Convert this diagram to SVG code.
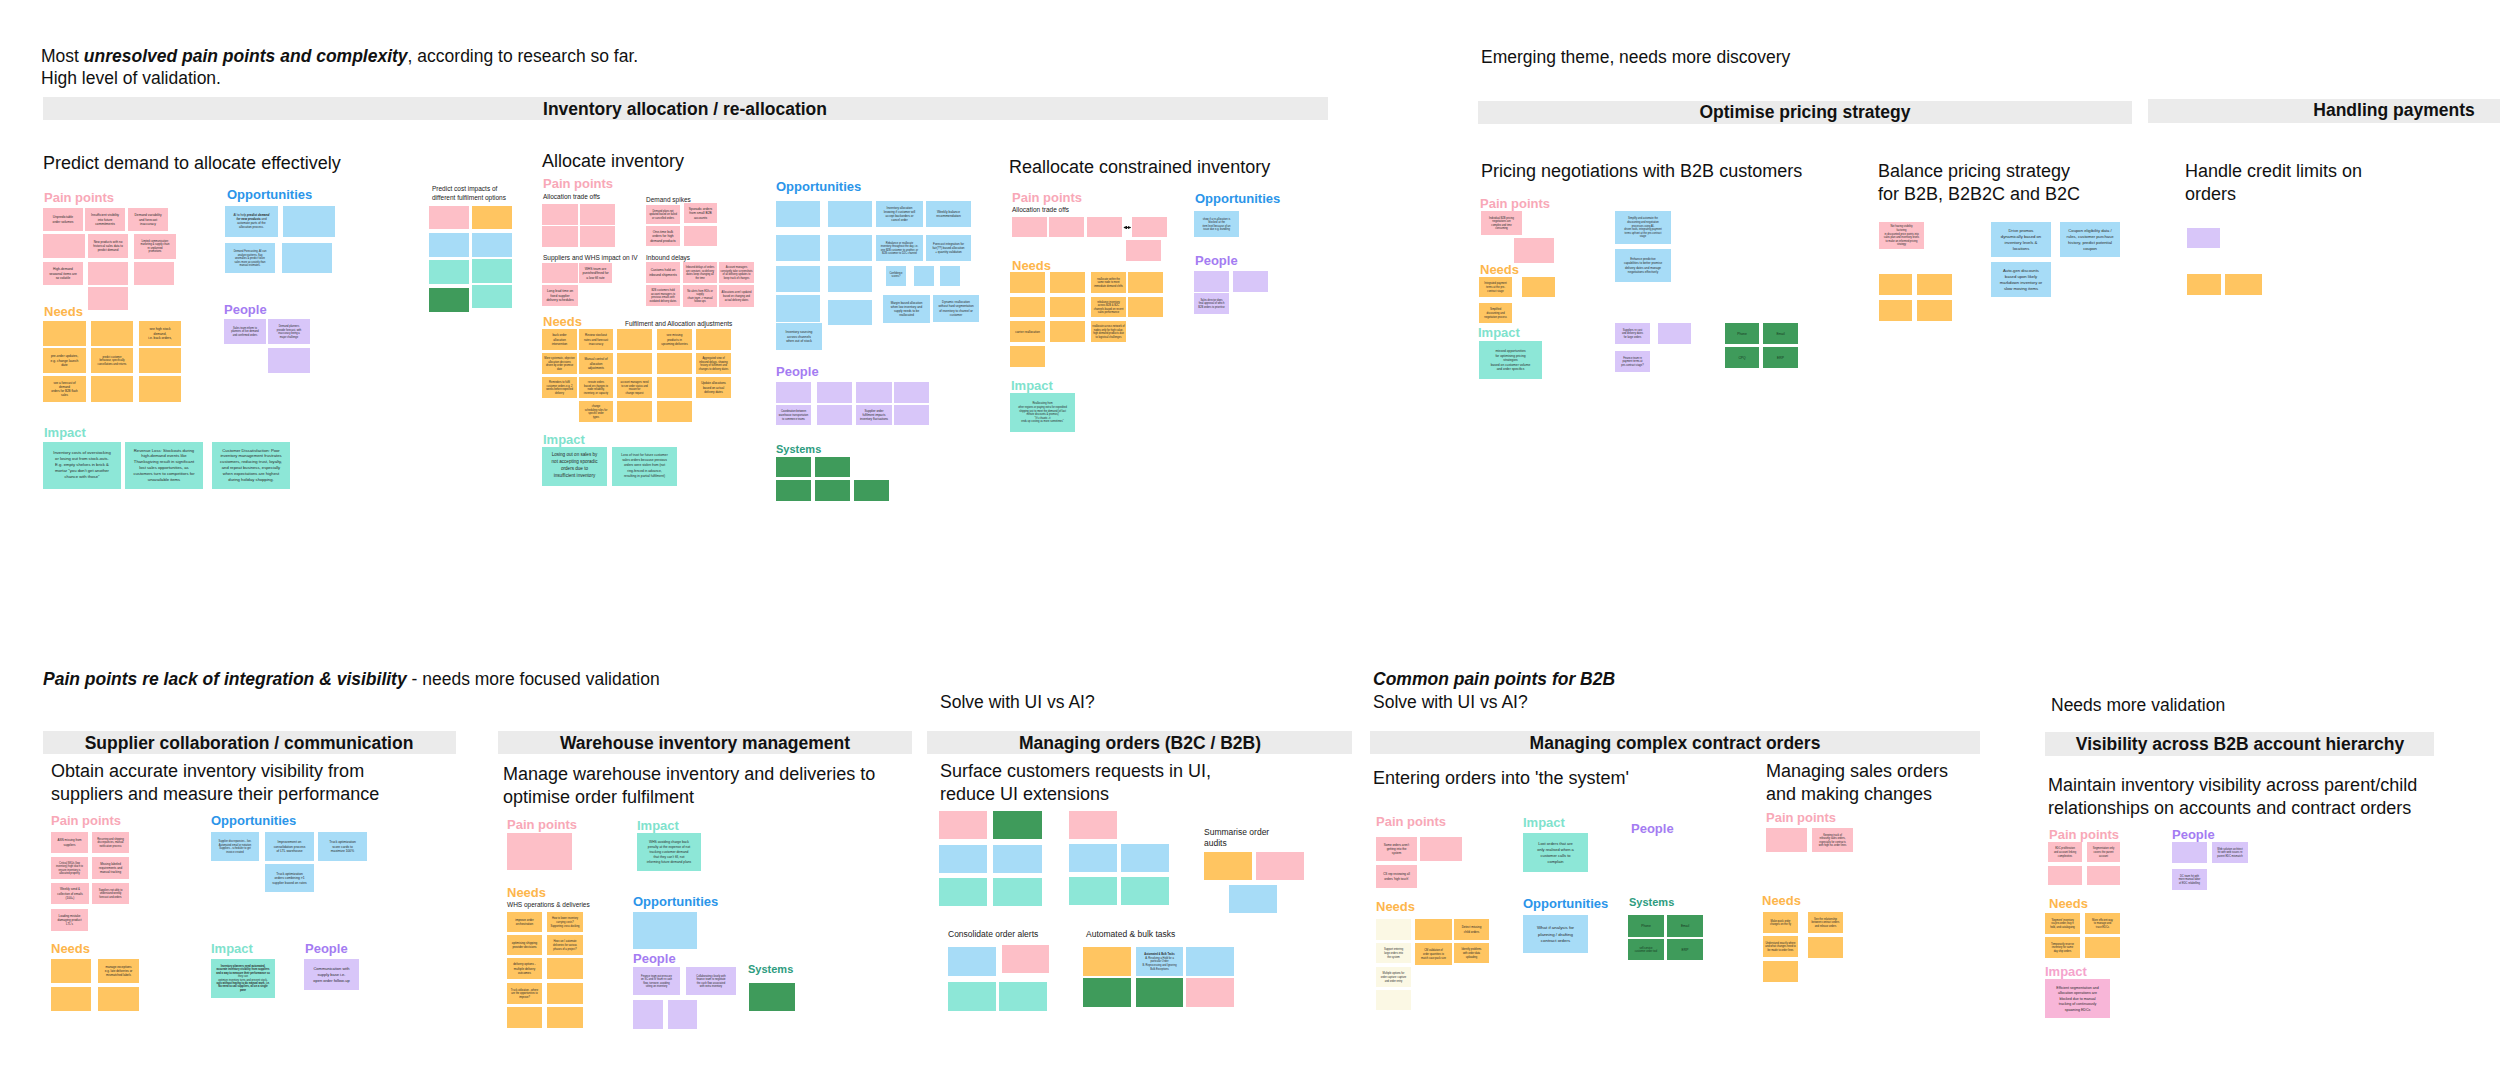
<svg xmlns="http://www.w3.org/2000/svg" width="2500" height="1085" viewBox="0 0 2500 1085">
<style>
text{font-family:"Liberation Sans",Arial,Helvetica,sans-serif}
.bg{fill:#ffffff}
.bar{fill:#ebebeb}
.h{font-size:17.5px;fill:#111}
.sub{font-size:18px;fill:#111}
.bt{font-size:17.5px;font-weight:bold;fill:#111;text-anchor:middle}
.lb{font-size:13px;font-weight:bold}
.lp{fill:#f8a8b7}.lo{fill:#2b95e9}.ln{fill:#fdb64c}.li{fill:#7fe2cd}.lpe{fill:#a47cf2}.lm{fill:#f5a3cc}
.ls{fill:#2e9c80;font-size:11px;font-weight:bold}
.sm{font-size:6.5px;fill:#222}
.md{font-size:8.5px;fill:#222}
.pk{fill:#fdbfc7}.bl{fill:#a7dcf7}.or{fill:#ffc561}.tl{fill:#8de7d7}.pu{fill:#d8c6f9}.dg{fill:#3f9b5b}.cr{fill:#fbf8e4}.mg{fill:#f8b6d8}
.st{font-size:3.3px;fill:#2a2a2a;text-anchor:middle}
.s3{font-size:3px;fill:#2a2a2a;text-anchor:middle}
.xs{font-size:2.6px;fill:#2a2a2a;text-anchor:middle}
.big{font-size:4.2px;fill:#2a2a2a;text-anchor:middle}
.gt{font-size:3.3px;fill:#16381f;text-anchor:middle}
</style>
<defs>
<marker id="ah" viewBox="0 0 6 6" refX="5" refY="3" markerWidth="3" markerHeight="3" orient="auto-start-reverse"><path d="M0,0 L6,3 L0,6 Z" fill="#111"/></marker>
</defs>
<rect class="bg" x="0" y="0" width="2500" height="1085"/>

<!-- ===== Top headers ===== -->
<g id="header-top">
<text class="h" x="41" y="62">Most <tspan font-weight="bold" font-style="italic">unresolved pain points and complexity</tspan>, according to research so far.</text>
<text class="h" x="41" y="84">High level of validation.</text>
<rect class="bar" x="43" y="97" width="1285" height="23"/>
<text class="bt" x="685" y="114.5">Inventory allocation / re-allocation</text>
<text class="h" x="1481" y="63">Emerging theme, needs more discovery</text>
<rect class="bar" x="1478" y="101" width="654" height="23"/>
<text class="bt" x="1805" y="118">Optimise pricing strategy</text>
<rect class="bar" x="2148" y="99" width="352" height="24"/>
<text class="bt" x="2394" y="116">Handling payments</text>
</g>

<!-- ===== Predict demand ===== -->
<g id="predict-demand">
<text class="sub" x="43" y="169">Predict demand to allocate effectively</text>
<text class="lb lp" x="44" y="201.5">Pain points</text>
<rect class="pk" x="43" y="208" width="40" height="23"/>
<text class="st" x="63" y="218.35"><tspan x="63">Unpredictable</tspan><tspan x="63" dy="4.6">order volumes</tspan></text>
<rect class="pk" x="85" y="208" width="40" height="23"/>
<text class="st" x="105" y="216.05"><tspan x="105">Insufficient visibility</tspan><tspan x="105" dy="4.6">into future</tspan><tspan x="105" dy="4.6">commitments</tspan></text>
<rect class="pk" x="128" y="208" width="40" height="23"/>
<text class="st" x="148" y="216.05"><tspan x="148">Demand variability</tspan><tspan x="148" dy="4.6">and forecast</tspan><tspan x="148" dy="4.6">inaccuracy</tspan></text>
<rect class="pk" x="43" y="234" width="42" height="24"/>
<rect class="pk" x="88" y="234" width="40" height="24"/>
<text class="s3" x="108" y="242.8"><tspan x="108">New products with no</tspan><tspan x="108" dy="4.2">historical sales data to</tspan><tspan x="108" dy="4.2">predict demand</tspan></text>
<rect class="pk" x="134" y="234" width="42" height="25"/>
<text class="xs" x="155" y="241.5"><tspan x="155">Limited communication:</tspan><tspan x="155" dy="3.6">marketing &amp; supply chain</tspan><tspan x="155" dy="3.6">re unplanned</tspan><tspan x="155" dy="3.6">promotions</tspan></text>
<rect class="pk" x="43" y="262" width="40" height="23"/>
<text class="st" x="63" y="270.05"><tspan x="63">High-demand</tspan><tspan x="63" dy="4.6">seasonal items are</tspan><tspan x="63" dy="4.6">so volatile</tspan></text>
<rect class="pk" x="88" y="262" width="40" height="23"/>
<rect class="pk" x="134" y="262" width="40" height="23"/>
<rect class="pk" x="88" y="287" width="40" height="23"/>

<text class="lb ln" x="44" y="315.5">Needs</text>
<rect class="or" x="43" y="321" width="43" height="25"/>
<rect class="or" x="91" y="321" width="42" height="25"/>
<rect class="or" x="139" y="321" width="42" height="25"/>
<text class="st" x="160" y="330.05"><tspan x="160">see high stock</tspan><tspan x="160" dy="4.6">demand,</tspan><tspan x="160" dy="4.6">i.e. back orders,</tspan></text>
<rect class="or" x="43" y="348" width="43" height="25"/>
<text class="st" x="64.5" y="357.05"><tspan x="64.5">pre-order updates,</tspan><tspan x="64.5" dy="4.6">e.g. change launch</tspan><tspan x="64.5" dy="4.6">date</tspan></text>
<rect class="or" x="91" y="348" width="42" height="25"/>
<text class="xs" x="112" y="357.8"><tspan x="112">predict customer</tspan><tspan x="112" dy="3.6">behaviour, specifically</tspan><tspan x="112" dy="3.6">cancellations and returns</tspan></text>
<rect class="or" x="139" y="348" width="42" height="25"/>
<rect class="or" x="43" y="376" width="43" height="26"/>
<text class="s3" x="64.5" y="383.7"><tspan x="64.5">see a forecast of</tspan><tspan x="64.5" dy="4.2">demand</tspan><tspan x="64.5" dy="4.2">orders for B2B flash</tspan><tspan x="64.5" dy="4.2">sales</tspan></text>
<rect class="or" x="91" y="376" width="42" height="26"/>
<rect class="or" x="139" y="376" width="42" height="26"/>

<text class="lb lo" x="227" y="198.5">Opportunities</text>
<rect class="bl" x="225" y="206" width="53" height="31"/>
<text class="s3" x="251.5" y="215.8"><tspan x="251.5">AI to help <tspan font-weight="bold" font-style="italic">predict demand</tspan></tspan><tspan x="251.5" dy="4.2"><tspan font-weight="bold" font-style="italic">for new products</tspan> and</tspan><tspan x="251.5" dy="4.2">automate parts of the</tspan><tspan x="251.5" dy="4.2">allocation process.</tspan></text>
<rect class="bl" x="283" y="206" width="52" height="31"/>
<rect class="bl" x="225" y="243" width="50" height="30"/>
<text class="xs" x="250" y="252"><tspan x="250">Demand Forecasting, AI can</tspan><tspan x="250" dy="3.6">analyze patterns, flag</tspan><tspan x="250" dy="3.6">anomalies &amp; predict future</tspan><tspan x="250" dy="3.6">sales more accurately than</tspan><tspan x="250" dy="3.6">manual estimates.</tspan></text>
<rect class="bl" x="282" y="243" width="50" height="30"/>

<text class="lb lpe" x="224" y="313.5">People</text>
<rect class="pu" x="224" y="319" width="42" height="25"/>
<text class="xs" x="245" y="328.8"><tspan x="245">Sales team inform to</tspan><tspan x="245" dy="3.6">planners of live demand</tspan><tspan x="245" dy="3.6">and confirmed orders</tspan></text>
<rect class="pu" x="268" y="319" width="42" height="25"/>
<text class="xs" x="289" y="327"><tspan x="289">Demand planners</tspan><tspan x="289" dy="3.6">provide forecast, with</tspan><tspan x="289" dy="3.6">inaccuracy being a</tspan><tspan x="289" dy="3.6">major challenge</tspan></text>
<rect class="pu" x="268" y="348" width="42" height="25"/>

<text class="lb li" x="44" y="436.5">Impact</text>
<rect class="tl" x="43" y="442" width="78" height="47"/>
<text class="big" x="82" y="454"><tspan x="82">Inventory costs of overstocking</tspan><tspan x="82" dy="6">or losing out from stock-outs.</tspan><tspan x="82" dy="6">E.g. empty shelves in brick &amp;</tspan><tspan x="82" dy="6">mortar "you don't get another</tspan><tspan x="82" dy="6">chance with those"</tspan></text>
<rect class="tl" x="125" y="442" width="78" height="47"/>
<text class="big" x="164" y="451.5"><tspan x="164">Revenue Loss:  Stockouts during</tspan><tspan x="164" dy="5.8">high-demand events like</tspan><tspan x="164" dy="5.8">Thanksgiving result in significant</tspan><tspan x="164" dy="5.8">lost sales opportunities, as</tspan><tspan x="164" dy="5.8">customers turn to competitors for</tspan><tspan x="164" dy="5.8">unavailable items</tspan></text>
<rect class="tl" x="212" y="442" width="78" height="47"/>
<text class="big" x="251" y="451.5"><tspan x="251">Customer Dissatisfaction:  Poor</tspan><tspan x="251" dy="5.8">inventory management frustrates</tspan><tspan x="251" dy="5.8">customers, reducing trust, loyalty,</tspan><tspan x="251" dy="5.8">and repeat business, especially</tspan><tspan x="251" dy="5.8">when expectations are highest</tspan><tspan x="251" dy="5.8">during holiday shopping.</tspan></text>
</g>

<!-- ===== Predict cost impacts ===== -->
<g id="predict-cost">
<text class="sm" x="432" y="191">Predict cost impacts of</text>
<text class="sm" x="432" y="200">different fulfilment options</text>
<rect class="pk" x="429" y="206" width="40" height="23"/>
<rect class="or" x="472" y="206" width="40" height="23"/>
<rect class="bl" x="429" y="233" width="40" height="24"/>
<rect class="bl" x="472" y="233" width="40" height="24"/>
<rect class="tl" x="429" y="260" width="40" height="24"/>
<rect class="tl" x="472" y="259" width="40" height="24"/>
<rect class="dg" x="429" y="288" width="40" height="24"/>
<rect class="tl" x="472" y="285" width="40" height="23"/>
</g>

<!-- ===== Allocate inventory ===== -->
<g id="allocate-inventory">
<text class="sub" x="542" y="167">Allocate inventory</text>
<text class="lb lp" x="543" y="187.5">Pain points</text>
<text class="sm" x="543" y="198.5">Allocation trade offs</text>
<rect class="pk" x="542" y="204" width="36" height="21"/>
<rect class="pk" x="580" y="204" width="35" height="21"/>
<rect class="pk" x="542" y="226" width="36" height="21"/>
<rect class="pk" x="580" y="226" width="35" height="21"/>
<text class="sm" x="646" y="201.5">Demand spikes</text>
<rect class="pk" x="646" y="205" width="34" height="19"/>
<text class="xs" x="663" y="211.7"><tspan x="663">Demand plans not</tspan><tspan x="663" dy="3.6">updated based on failed</tspan><tspan x="663" dy="3.6">or cancelled orders</tspan></text>
<rect class="pk" x="684" y="203" width="33" height="20"/>
<text class="st" x="700.5" y="209.55"><tspan x="700.5">Sporadic orders</tspan><tspan x="700.5" dy="4.6">from small B2B</tspan><tspan x="700.5" dy="4.6">accounts</tspan></text>
<rect class="pk" x="646" y="226" width="34" height="20"/>
<text class="st" x="663" y="232.55"><tspan x="663">One-time bulk</tspan><tspan x="663" dy="4.6">orders for high</tspan><tspan x="663" dy="4.6">demand products</tspan></text>
<rect class="pk" x="684" y="226" width="33" height="20"/>
<text class="sm" x="543" y="259.5">Suppliers and WHS impact on IV</text>
<rect class="pk" x="542" y="263" width="36" height="20"/>
<rect class="pk" x="579" y="263" width="33" height="20"/>
<text class="st" x="595.5" y="269.55"><tspan x="595.5">WHS team are</tspan><tspan x="595.5" dy="4.6">punished/fined for</tspan><tspan x="595.5" dy="4.6">a low fill rate</tspan></text>
<rect class="pk" x="542" y="285" width="36" height="21"/>
<text class="st" x="560" y="292.05"><tspan x="560">Long lead time on</tspan><tspan x="560" dy="4.6">fixed supplier</tspan><tspan x="560" dy="4.6">delivery schedules</tspan></text>
<text class="sm" x="646" y="259.5">Inbound delays</text>
<rect class="pk" x="646" y="262" width="34" height="21"/>
<text class="st" x="663" y="271.35"><tspan x="663">Customs hold on</tspan><tspan x="663" dy="4.6">inbound shipments</tspan></text>
<rect class="pk" x="683" y="262" width="34" height="21"/>
<text class="xs" x="700" y="268"><tspan x="700">Inbound delays of orders</tspan><tspan x="700" dy="3.6">are constant, so delivery</tspan><tspan x="700" dy="3.6">dates keep changing all</tspan><tspan x="700" dy="3.6">the time</tspan></text>
<rect class="pk" x="719" y="262" width="35" height="21"/>
<text class="xs" x="736.5" y="268"><tspan x="736.5">Account managers</tspan><tspan x="736.5" dy="3.6">constantly take screenshots</tspan><tspan x="736.5" dy="3.6">of all delivery updates to</tspan><tspan x="736.5" dy="3.6">keep track of changes</tspan></text>
<rect class="pk" x="646" y="285" width="34" height="21"/>
<text class="xs" x="663" y="291"><tspan x="663">B2B customers hold</tspan><tspan x="663" dy="3.6">account managers to</tspan><tspan x="663" dy="3.6">previous emails with</tspan><tspan x="663" dy="3.6">outdated delivery dates</tspan></text>
<rect class="pk" x="683" y="285" width="34" height="22"/>
<text class="xs" x="700" y="291.5"><tspan x="700">No alerts from EDIs or</tspan><tspan x="700" dy="3.6">supply</tspan><tspan x="700" dy="3.6">chain team -&gt; manual</tspan><tspan x="700" dy="3.6">follow ups</tspan></text>
<rect class="pk" x="719" y="285" width="35" height="22"/>
<text class="xs" x="736.5" y="293.3"><tspan x="736.5">Allocations aren't updated</tspan><tspan x="736.5" dy="3.6">based on changing and</tspan><tspan x="736.5" dy="3.6">actual delivery dates</tspan></text>

<text class="lb ln" x="543" y="325.5">Needs</text>
<text class="sm" x="625" y="325.5">Fulfilment and Allocation adjustments</text>
<rect class="or" x="542" y="329" width="35" height="21"/>
<text class="s3" x="559.5" y="336.35"><tspan x="559.5">back order</tspan><tspan x="559.5" dy="4.2">allocation</tspan><tspan x="559.5" dy="4.2">intervention</tspan></text>
<rect class="or" x="579" y="329" width="34" height="21"/>
<text class="s3" x="596" y="336.35"><tspan x="596">Review stockout</tspan><tspan x="596" dy="4.2">rates and forecast</tspan><tspan x="596" dy="4.2">inaccuracy</tspan></text>
<rect class="or" x="617" y="329" width="35" height="21"/>
<rect class="or" x="657" y="329" width="35" height="21"/>
<text class="s3" x="674.5" y="336.35"><tspan x="674.5">see missing</tspan><tspan x="674.5" dy="4.2">products in</tspan><tspan x="674.5" dy="4.2">upcoming deliveries</tspan></text>
<rect class="or" x="696" y="329" width="35" height="21"/>
<rect class="or" x="542" y="353" width="35" height="21"/>
<text class="xs" x="559.5" y="359"><tspan x="559.5">More systematic, objective</tspan><tspan x="559.5" dy="3.6">allocation decisions</tspan><tspan x="559.5" dy="3.6">driven by order promise</tspan><tspan x="559.5" dy="3.6">date</tspan></text>
<rect class="or" x="579" y="353" width="34" height="21"/>
<text class="s3" x="596" y="360.35"><tspan x="596">Manual control of</tspan><tspan x="596" dy="4.2">allocation</tspan><tspan x="596" dy="4.2">adjustments</tspan></text>
<rect class="or" x="617" y="353" width="35" height="21"/>
<rect class="or" x="657" y="353" width="35" height="21"/>
<rect class="or" x="696" y="353" width="35" height="21"/>
<text class="xs" x="713.5" y="359"><tspan x="713.5">Aggregated view of</tspan><tspan x="713.5" dy="3.6">inbound delays, showing</tspan><tspan x="713.5" dy="3.6">history of fulfilment and</tspan><tspan x="713.5" dy="3.6">changes to delivery dates</tspan></text>
<rect class="or" x="542" y="377" width="35" height="21"/>
<text class="xs" x="559.5" y="383"><tspan x="559.5">Reminders to fulfil</tspan><tspan x="559.5" dy="3.6">customer orders e.g. 2</tspan><tspan x="559.5" dy="3.6">weeks before expected</tspan><tspan x="559.5" dy="3.6">delivery</tspan></text>
<rect class="or" x="579" y="377" width="34" height="21"/>
<text class="xs" x="596" y="383"><tspan x="596">reroute orders</tspan><tspan x="596" dy="3.6">based on changes to</tspan><tspan x="596" dy="3.6">node reliability,</tspan><tspan x="596" dy="3.6">inventory, or capacity</tspan></text>
<rect class="or" x="617" y="377" width="35" height="21"/>
<text class="xs" x="634.5" y="383"><tspan x="634.5">account managers need</tspan><tspan x="634.5" dy="3.6">to see order status and</tspan><tspan x="634.5" dy="3.6">reason for</tspan><tspan x="634.5" dy="3.6">change request</tspan></text>
<rect class="or" x="657" y="377" width="35" height="21"/>
<rect class="or" x="696" y="377" width="35" height="21"/>
<text class="s3" x="713.5" y="384.35"><tspan x="713.5">Update allocations</tspan><tspan x="713.5" dy="4.2">based on actual</tspan><tspan x="713.5" dy="4.2">delivery dates</tspan></text>
<rect class="or" x="579" y="401" width="34" height="21"/>
<text class="xs" x="596" y="407"><tspan x="596">change</tspan><tspan x="596" dy="3.6">scheduling rules for</tspan><tspan x="596" dy="3.6">specific order</tspan><tspan x="596" dy="3.6">types</tspan></text>
<rect class="or" x="617" y="401" width="35" height="21"/>
<rect class="or" x="657" y="401" width="35" height="21"/>

<text class="lb li" x="543" y="443.5">Impact</text>
<rect class="tl" x="542" y="447" width="65" height="39"/>
<text style="font-size:4.6px;fill:#2a2a2a;text-anchor:middle" x="574.5" y="456"><tspan x="574.5">Losing out on sales by</tspan><tspan x="574.5" dy="7">not accepting sporadic</tspan><tspan x="574.5" dy="7">orders due to</tspan><tspan x="574.5" dy="7">insufficient inventory</tspan></text>
<rect class="tl" x="612" y="447" width="65" height="39"/>
<text class="st" x="644.5" y="456"><tspan x="644.5">Loss of trust for future customer</tspan><tspan x="644.5" dy="5.2">sales orders because previous</tspan><tspan x="644.5" dy="5.2">orders were stolen from (not</tspan><tspan x="644.5" dy="5.2">ring-fenced in advance,</tspan><tspan x="644.5" dy="5.2">resulting in partial fulfilment)</tspan></text>

<text class="lb lo" x="776" y="190.5">Opportunities</text>
<rect class="bl" x="776" y="201" width="44" height="26"/>
<rect class="bl" x="828" y="201" width="44" height="26"/>
<rect class="bl" x="876" y="201" width="47" height="26"/>
<text class="s3" x="899.5" y="208.75"><tspan x="899.5">Inventory allocation</tspan><tspan x="899.5" dy="4.2">knowing if customer will</tspan><tspan x="899.5" dy="4.2">accept backorders or</tspan><tspan x="899.5" dy="4.2">cancel order</tspan></text>
<rect class="bl" x="926" y="201" width="45" height="26"/>
<text class="st" x="948.5" y="212.85"><tspan x="948.5">Weekly balance</tspan><tspan x="948.5" dy="4.6">recommendation</tspan></text>
<rect class="bl" x="776" y="235" width="44" height="26"/>
<rect class="bl" x="828" y="235" width="44" height="26"/>
<rect class="bl" x="876" y="235" width="47" height="26"/>
<text class="xs" x="899.5" y="243.5"><tspan x="899.5">Rebalance or reallocate</tspan><tspan x="899.5" dy="3.6">inventory throughout the day, i.e.</tspan><tspan x="899.5" dy="3.6">one B2B customer to another, or</tspan><tspan x="899.5" dy="3.6">B2B customer to D2C channel</tspan></text>
<rect class="bl" x="926" y="235" width="45" height="26"/>
<text class="s3" x="948.5" y="244.85"><tspan x="948.5">Forecast integration for</tspan><tspan x="948.5" dy="4.2">fair(??) based allocation</tspan><tspan x="948.5" dy="4.2">+ quantity validation</tspan></text>
<rect class="bl" x="776" y="266" width="44" height="26"/>
<rect class="bl" x="828" y="266" width="44" height="26"/>
<rect class="bl" x="886" y="266" width="20" height="20"/>
<text class="xs" x="896" y="273.5"><tspan x="896">Confidence</tspan><tspan x="896" dy="3.6">scores?</tspan></text>
<rect class="bl" x="914" y="266" width="20" height="20"/>
<rect class="bl" x="940" y="266" width="20" height="20"/>
<rect class="bl" x="776" y="295" width="44" height="27"/>
<rect class="bl" x="828" y="300" width="44" height="25"/>
<rect class="bl" x="883" y="295" width="47" height="28"/>
<text class="s3" x="906.5" y="303.75"><tspan x="906.5">Margin based allocation</tspan><tspan x="906.5" dy="4.2">when low inventory and</tspan><tspan x="906.5" dy="4.2">supply needs to be</tspan><tspan x="906.5" dy="4.2">reallocated</tspan></text>
<rect class="bl" x="933" y="295" width="46" height="27"/>
<text class="s3" x="956" y="303.25"><tspan x="956">Dynamic reallocation</tspan><tspan x="956" dy="4.2">without hard segmentation</tspan><tspan x="956" dy="4.2">of inventory to channel or</tspan><tspan x="956" dy="4.2">customer</tspan></text>
<rect class="bl" x="776" y="323" width="46" height="27"/>
<text class="st" x="799" y="333.05"><tspan x="799">Inventory sourcing</tspan><tspan x="799" dy="4.6">across channels</tspan><tspan x="799" dy="4.6">when out of stock</tspan></text>

<text class="lb lpe" x="776" y="375.5">People</text>
<rect class="pu" x="776" y="382" width="35" height="21"/>
<rect class="pu" x="817" y="382" width="35" height="21"/>
<rect class="pu" x="856" y="382" width="36" height="21"/>
<rect class="pu" x="894" y="382" width="35" height="21"/>
<rect class="pu" x="776" y="405" width="35" height="20"/>
<text class="xs" x="793.5" y="412.3"><tspan x="793.5">Coordination between</tspan><tspan x="793.5" dy="3.6">warehouse transportation</tspan><tspan x="793.5" dy="3.6">to commerce teams</tspan></text>
<rect class="pu" x="817" y="405" width="35" height="20"/>
<rect class="pu" x="856" y="405" width="36" height="20"/>
<text class="s3" x="874" y="411.85"><tspan x="874">Supplier order</tspan><tspan x="874" dy="4.2">fulfilment impacts</tspan><tspan x="874" dy="4.2">inventory fluctuations</tspan></text>
<rect class="pu" x="894" y="405" width="35" height="20"/>

<text class="ls" x="776" y="453">Systems</text>
<rect class="dg" x="776" y="457" width="35" height="20"/>
<rect class="dg" x="815" y="457" width="35" height="20"/>
<rect class="dg" x="776" y="480" width="35" height="21"/>
<rect class="dg" x="815" y="480" width="35" height="21"/>
<rect class="dg" x="854" y="480" width="35" height="21"/>
</g>

<!-- ===== Reallocate constrained inventory ===== -->
<g id="reallocate-inventory">
<text class="sub" x="1009" y="173">Reallocate constrained inventory</text>
<text class="lb lp" x="1012" y="201.5">Pain points</text>
<text class="sm" x="1012" y="211.5">Allocation trade offs</text>
<rect class="pk" x="1012" y="217" width="35" height="20"/>
<rect class="pk" x="1049" y="217" width="35" height="20"/>
<rect class="pk" x="1087" y="217" width="35" height="20"/>
<rect class="pk" x="1132" y="217" width="35" height="20"/>
<rect class="pk" x="1126" y="240" width="35" height="21"/>

<text class="lb ln" x="1012" y="269.5">Needs</text>
<rect class="or" x="1010" y="272" width="35" height="21"/>
<rect class="or" x="1050" y="272" width="35" height="21"/>
<rect class="or" x="1091" y="272" width="35" height="21"/>
<text class="xs" x="1108.5" y="279.8"><tspan x="1108.5">reallocate within the</tspan><tspan x="1108.5" dy="3.6">same node to meet</tspan><tspan x="1108.5" dy="3.6">immediate demand shifts</tspan></text>
<rect class="or" x="1128" y="272" width="35" height="21"/>
<rect class="or" x="1010" y="297" width="35" height="20"/>
<rect class="or" x="1050" y="297" width="35" height="20"/>
<rect class="or" x="1091" y="297" width="35" height="20"/>
<text class="xs" x="1108.5" y="302.5"><tspan x="1108.5">rebalance inventory</tspan><tspan x="1108.5" dy="3.6">across B2B &amp; B2C</tspan><tspan x="1108.5" dy="3.6">channels based on recent</tspan><tspan x="1108.5" dy="3.6">sales performance</tspan></text>
<rect class="or" x="1128" y="297" width="35" height="20"/>
<rect class="or" x="1010" y="321" width="35" height="21"/>
<text class="s3" x="1027.5" y="332.5">carrier reallocation</text>
<rect class="or" x="1050" y="321" width="35" height="21"/>
<rect class="or" x="1091" y="321" width="35" height="21"/>
<text class="xs" x="1108.5" y="327"><tspan x="1108.5">reallocate across network of</tspan><tspan x="1108.5" dy="3.6">nodes only for high value,</tspan><tspan x="1108.5" dy="3.6">high demand products due</tspan><tspan x="1108.5" dy="3.6">to logistical challenges</tspan></text>
<rect class="or" x="1010" y="346" width="35" height="21"/>

<text class="lb li" x="1011" y="389.5">Impact</text>
<rect class="tl" x="1010" y="393" width="65" height="39"/>
<text class="xs" x="1042.5" y="404.4"><tspan x="1042.5">Reallocating from</tspan><tspan x="1042.5" dy="3.6">other regions or paying extra for expedited</tspan><tspan x="1042.5" dy="3.6">shipping just to meet the demand (of last</tspan><tspan x="1042.5" dy="3.6">minute discounts &amp; promos)</tspan><tspan x="1042.5" dy="3.6">"It's chaotic..it</tspan><tspan x="1042.5" dy="3.6">ends up costing us more sometimes"</tspan></text>

<text class="lb lo" x="1195" y="202.5">Opportunities</text>
<rect class="bl" x="1194" y="211" width="45" height="26"/>
<text class="xs" x="1216.5" y="219.5"><tspan x="1216.5">show if a re-allocation is</tspan><tspan x="1216.5" dy="3.6">'blocked' at the</tspan><tspan x="1216.5" dy="3.6">item level because of an</tspan><tspan x="1216.5" dy="3.6">issue due e.g. bundling</tspan></text>
<text class="lb lpe" x="1195" y="264.5">People</text>
<rect class="pu" x="1194" y="271" width="35" height="21"/>
<rect class="pu" x="1233" y="271" width="35" height="21"/>
<rect class="pu" x="1194" y="293" width="35" height="21"/>
<text class="xs" x="1211.5" y="300.8"><tspan x="1211.5">Sales director does</tspan><tspan x="1211.5" dy="3.6">final approval of which</tspan><tspan x="1211.5" dy="3.6">B2B orders to prioritise</tspan></text>
</g>

<!-- ===== Pricing negotiations ===== -->
<g id="pricing-negotiations">
<text class="sub" x="1481" y="177">Pricing negotiations with B2B customers</text>
<text class="lb lp" x="1480" y="207.5">Pain points</text>
<rect class="pk" x="1481" y="211" width="41" height="24"/>
<text class="xs" x="1501.5" y="218.5"><tspan x="1501.5">Individual B2B pricing</tspan><tspan x="1501.5" dy="3.6">negotiations are</tspan><tspan x="1501.5" dy="3.6">complex and time</tspan><tspan x="1501.5" dy="3.6">consuming</tspan></text>
<rect class="pk" x="1514" y="238" width="40" height="25"/>
<text class="lb ln" x="1480" y="273.5">Needs</text>
<rect class="or" x="1479" y="277" width="33" height="20"/>
<text class="xs" x="1495.5" y="284.3"><tspan x="1495.5">Integrated payment</tspan><tspan x="1495.5" dy="3.6">terms at the pre-</tspan><tspan x="1495.5" dy="3.6">contract stage</tspan></text>
<rect class="or" x="1522" y="277" width="33" height="20"/>
<rect class="or" x="1479" y="303" width="33" height="20"/>
<text class="xs" x="1495.5" y="310.3"><tspan x="1495.5">Simplified</tspan><tspan x="1495.5" dy="3.6">discounting and</tspan><tspan x="1495.5" dy="3.6">negotiation process</tspan></text>
<text class="lb li" x="1478" y="336.5">Impact</text>
<rect class="tl" x="1479" y="341" width="63" height="38"/>
<text class="st" x="1510.5" y="351.95"><tspan x="1510.5">missed opportunities</tspan><tspan x="1510.5" dy="4.6">for optimising pricing</tspan><tspan x="1510.5" dy="4.6">strategies</tspan><tspan x="1510.5" dy="4.6">based on customer volume</tspan><tspan x="1510.5" dy="4.6">and order specifics</tspan></text>
<rect class="bl" x="1615" y="211" width="56" height="33"/>
<text class="xs" x="1643" y="219.4"><tspan x="1643">Simplify and automate the</tspan><tspan x="1643" dy="3.6">discounting and negotiation</tspan><tspan x="1643" dy="3.6">processes using AI-</tspan><tspan x="1643" dy="3.6">driven tools, integrating payment</tspan><tspan x="1643" dy="3.6">terms upfront at the pre-contract</tspan><tspan x="1643" dy="3.6">stage</tspan></text>
<rect class="bl" x="1615" y="249" width="56" height="33"/>
<text class="s3" x="1643" y="260.25"><tspan x="1643">Enhance predictive</tspan><tspan x="1643" dy="4.2">capabilities to better promise</tspan><tspan x="1643" dy="4.2">delivery dates and manage</tspan><tspan x="1643" dy="4.2">negotiations effectively</tspan></text>
<rect class="pu" x="1615" y="323" width="35" height="21"/>
<text class="xs" x="1632.5" y="330.8"><tspan x="1632.5">Suppliers re cost</tspan><tspan x="1632.5" dy="3.6">and delivery dates</tspan><tspan x="1632.5" dy="3.6">for large orders</tspan></text>
<rect class="pu" x="1658" y="323" width="33" height="21"/>
<rect class="pu" x="1615" y="351" width="35" height="21"/>
<text class="xs" x="1632.5" y="358.8"><tspan x="1632.5">Finance team re</tspan><tspan x="1632.5" dy="3.6">payment terms at</tspan><tspan x="1632.5" dy="3.6">pre-contract stage?</tspan></text>
<rect class="dg" x="1725" y="323" width="34" height="21"/>
<text class="gt" x="1742" y="334.65">Phone</text>
<rect class="dg" x="1763" y="323" width="35" height="21"/>
<text class="gt" x="1780.5" y="334.65">Email</text>
<rect class="dg" x="1725" y="347" width="34" height="21"/>
<text class="gt" x="1742" y="358.65">CPQ</text>
<rect class="dg" x="1763" y="347" width="35" height="21"/>
<text class="gt" x="1780.5" y="358.65">ERP</text>
</g>

<!-- ===== Balance pricing strategy ===== -->
<g id="balance-pricing">
<text class="sub" x="1878" y="177">Balance pricing strategy</text>
<text class="sub" x="1878" y="200">for B2B, B2B2C and B2C</text>
<rect class="pk" x="1879" y="222" width="45" height="27"/>
<text class="xs" x="1901.5" y="227.4"><tspan x="1901.5">Not having visibility</tspan><tspan x="1901.5" dy="3.6">factoring</tspan><tspan x="1901.5" dy="3.6">in discounted price points into</tspan><tspan x="1901.5" dy="3.6">sales plan and inventory levels</tspan><tspan x="1901.5" dy="3.6">to make an informed pricing</tspan><tspan x="1901.5" dy="3.6">strategy</tspan></text>
<rect class="bl" x="1991" y="222" width="60" height="35"/>
<text class="big" x="2021" y="232.2"><tspan x="2021">Drive promos</tspan><tspan x="2021" dy="5.8">dynamically based on</tspan><tspan x="2021" dy="5.8">inventory levels &amp;</tspan><tspan x="2021" dy="5.8">locations</tspan></text>
<rect class="bl" x="2060" y="222" width="60" height="35"/>
<text class="big" x="2090" y="232.2"><tspan x="2090">Coupon eligibility data /</tspan><tspan x="2090" dy="5.8">rules, customer purchase</tspan><tspan x="2090" dy="5.8">history, predict potential</tspan><tspan x="2090" dy="5.8">coupon</tspan></text>
<rect class="bl" x="1991" y="262" width="60" height="35"/>
<text class="big" x="2021" y="272.2"><tspan x="2021">Auto-gen discounts</tspan><tspan x="2021" dy="5.8">based upon likely</tspan><tspan x="2021" dy="5.8">markdown inventory or</tspan><tspan x="2021" dy="5.8">slow moving items</tspan></text>
<rect class="or" x="1879" y="274" width="33" height="21"/>
<rect class="or" x="1917" y="274" width="35" height="21"/>
<rect class="or" x="1879" y="300" width="33" height="21"/>
<rect class="or" x="1917" y="300" width="35" height="21"/>
</g>

<!-- ===== Handle credit limits ===== -->
<g id="handle-credit">
<text class="sub" x="2185" y="177">Handle credit limits on</text>
<text class="sub" x="2185" y="200">orders</text>
<rect class="pu" x="2187" y="228" width="33" height="20"/>
<rect class="or" x="2187" y="274" width="34" height="21"/>
<rect class="or" x="2225" y="274" width="37" height="21"/>
</g>

<!-- ===== Bottom headers ===== -->
<g id="header-bottom">
<text class="h" x="43" y="685"><tspan font-weight="bold" font-style="italic">Pain points re lack of integration &amp; visibility</tspan> - needs more focused validation</text>
<text class="h" x="940" y="708">Solve with UI vs AI?</text>
<text class="h" x="1373" y="685" font-weight="bold" font-style="italic">Common pain points for B2B</text>
<text class="h" x="1373" y="708">Solve with UI vs AI?</text>
<text class="h" x="2051" y="711">Needs more validation</text>
</g>

<!-- ===== Supplier collaboration ===== -->
<g id="supplier-collaboration">
<rect class="bar" x="43" y="731" width="413" height="23"/>
<text class="bt" x="249" y="748.5">Supplier collaboration / communication</text>
<text class="sub" x="51" y="777">Obtain accurate inventory visibility from</text>
<text class="sub" x="51" y="800">suppliers and measure their performance</text>
<text class="lb lp" x="51" y="824.5">Pain points</text>
<rect class="pk" x="51" y="832" width="37" height="21"/>
<text class="s3" x="69.5" y="841.45"><tspan x="69.5">ASN missing from</tspan><tspan x="69.5" dy="4.2">suppliers</tspan></text>
<rect class="pk" x="92" y="832" width="37" height="21"/>
<text class="xs" x="110.5" y="839.8"><tspan x="110.5">Recurring and shipping</tspan><tspan x="110.5" dy="3.6">discrepancies, manual</tspan><tspan x="110.5" dy="3.6">notification process</tspan></text>
<rect class="pk" x="51" y="857" width="37" height="22"/>
<text class="xs" x="69.5" y="863.5"><tspan x="69.5">Critical SKUs (low</tspan><tspan x="69.5" dy="3.6">inventory) high touch to</tspan><tspan x="69.5" dy="3.6">ensure inventory is</tspan><tspan x="69.5" dy="3.6">allocated properly</tspan></text>
<rect class="pk" x="92" y="857" width="37" height="22"/>
<text class="s3" x="110.5" y="864.85"><tspan x="110.5">Missing labeled</tspan><tspan x="110.5" dy="4.2">requirements and</tspan><tspan x="110.5" dy="4.2">manual tracking</tspan></text>
<rect class="pk" x="51" y="883" width="38" height="21"/>
<text class="s3" x="70" y="890.35"><tspan x="70">Weekly send &amp;</tspan><tspan x="70" dy="4.2">collection of emails</tspan><tspan x="70" dy="4.2">(100+)</tspan></text>
<rect class="pk" x="92" y="883" width="37" height="21"/>
<text class="xs" x="110.5" y="890.8"><tspan x="110.5">Suppliers not able to</tspan><tspan x="110.5" dy="3.6">understand weekly</tspan><tspan x="110.5" dy="3.6">forecast and orders</tspan></text>
<rect class="pk" x="51" y="909" width="37" height="22"/>
<text class="s3" x="69.5" y="916.85"><tspan x="69.5">Loading mistake</tspan><tspan x="69.5" dy="4.2">damaging product</tspan><tspan x="69.5" dy="4.2">LTL's</tspan></text>
<text class="lb ln" x="51" y="952.5">Needs</text>
<rect class="or" x="51" y="959" width="40" height="24"/>
<rect class="or" x="98" y="959" width="41" height="24"/>
<text class="s3" x="118.5" y="967.85"><tspan x="118.5">manage exceptions</tspan><tspan x="118.5" dy="4.2">e.g. late deliveries or</tspan><tspan x="118.5" dy="4.2">mismatched labels</tspan></text>
<rect class="or" x="51" y="987" width="40" height="24"/>
<rect class="or" x="98" y="987" width="41" height="24"/>
<text class="lb lo" x="211" y="824.5">Opportunities</text>
<rect class="bl" x="211" y="832" width="48" height="29"/>
<text class="xs" x="235" y="842"><tspan x="235">Supplier discrepancies - live.</tspan><tspan x="235" dy="3.6">Automated email or notation</tspan><tspan x="235" dy="3.6">Suppliers - scheduler to get</tspan><tspan x="235" dy="3.6">invoice created</tspan></text>
<rect class="bl" x="265" y="832" width="49" height="29"/>
<text class="st" x="289.5" y="843.05"><tspan x="289.5">Improvement on</tspan><tspan x="289.5" dy="4.6">consolidation process</tspan><tspan x="289.5" dy="4.6">of LTL warehouse</tspan></text>
<rect class="bl" x="318" y="832" width="49" height="29"/>
<text class="st" x="342.5" y="843.05"><tspan x="342.5">Truck optimization</tspan><tspan x="342.5" dy="4.6">score cards to</tspan><tspan x="342.5" dy="4.6">maximize 100%</tspan></text>
<rect class="bl" x="265" y="864" width="49" height="28"/>
<text class="st" x="289.5" y="874.55"><tspan x="289.5">Truck optimization</tspan><tspan x="289.5" dy="4.6">orders combining &gt;1</tspan><tspan x="289.5" dy="4.6">supplier based on rates</tspan></text>
<text class="lb li" x="211" y="952.5">Impact</text>
<rect class="tl" x="211" y="959" width="64" height="39"/>
<text class="xs" x="243" y="967" font-weight="bold"><tspan x="243">Inventory planners need automated,</tspan><tspan x="243" dy="3.4">accurate inventory visibility from suppliers</tspan><tspan x="243" dy="3.4">and a way to measure their performance so</tspan><tspan x="243" dy="3.4" font-weight="normal">they can</tspan><tspan x="243" dy="3.4" font-weight="normal">optimize inventory turns and prevent stock-</tspan><tspan x="243" dy="3.4">outs without having to do manual work, i.e.</tspan><tspan x="243" dy="3.4">No need to call suppliers, all on a single</tspan><tspan x="243" dy="3.4">pane</tspan></text>
<text class="lb lpe" x="305" y="952.5">People</text>
<rect class="pu" x="304" y="959" width="55" height="31"/>
<text style="font-size:4px;fill:#2a2a2a;text-anchor:middle" x="331.5" y="969.9"><tspan x="331.5">Communication with</tspan><tspan x="331.5" dy="6">supply base i.e.</tspan><tspan x="331.5" dy="6">open order follow-up</tspan></text>
</g>

<!-- ===== Warehouse inventory management ===== -->
<g id="warehouse-management">
<rect class="bar" x="498" y="731" width="414" height="23"/>
<text class="bt" x="705" y="748.5">Warehouse inventory management</text>
<text class="sub" x="503" y="780">Manage warehouse inventory and deliveries to</text>
<text class="sub" x="503" y="803">optimise order fulfilment</text>
<text class="lb lp" x="507" y="828.5">Pain points</text>
<rect class="pk" x="507" y="833" width="65" height="37"/>
<text class="lb ln" x="507" y="896.5">Needs</text>
<text class="sm" x="507" y="907">WHS operations &amp; deliveries</text>
<rect class="or" x="507" y="912" width="35" height="20"/>
<text class="s3" x="524.5" y="920.95"><tspan x="524.5">improve order</tspan><tspan x="524.5" dy="4.2">orchestration</tspan></text>
<rect class="or" x="547" y="912" width="36" height="20"/>
<text class="xs" x="565" y="919.3"><tspan x="565">How to lower inventory</tspan><tspan x="565" dy="3.6">carrying costs?</tspan><tspan x="565" dy="3.6">Supporting cross docking</tspan></text>
<rect class="or" x="507" y="935" width="35" height="20"/>
<text class="s3" x="524.5" y="943.95"><tspan x="524.5">optimising shipping</tspan><tspan x="524.5" dy="4.2">provider decisions</tspan></text>
<rect class="or" x="547" y="935" width="36" height="20"/>
<text class="xs" x="565" y="942.3"><tspan x="565">How can I automate</tspan><tspan x="565" dy="3.6">deliveries for various</tspan><tspan x="565" dy="3.6">phases of a project?</tspan></text>
<rect class="or" x="507" y="958" width="35" height="21"/>
<text class="s3" x="524.5" y="965.35"><tspan x="524.5">delivery options -</tspan><tspan x="524.5" dy="4.2">multiple delivery</tspan><tspan x="524.5" dy="4.2">outcomes</tspan></text>
<rect class="or" x="547" y="958" width="36" height="21"/>
<rect class="or" x="507" y="983" width="35" height="21"/>
<text class="xs" x="524.5" y="990.8"><tspan x="524.5">Truck utilization - where</tspan><tspan x="524.5" dy="3.6">are the opportunities to</tspan><tspan x="524.5" dy="3.6">improve?</tspan></text>
<rect class="or" x="547" y="983" width="36" height="21"/>
<rect class="or" x="507" y="1007" width="35" height="21"/>
<rect class="or" x="547" y="1007" width="36" height="21"/>
<text class="lb li" x="637" y="829.5">Impact</text>
<rect class="tl" x="637" y="833" width="64" height="38"/>
<text class="st" x="669" y="843.15"><tspan x="669">WHS avoiding charge back</tspan><tspan x="669" dy="5">penalty at the expense of not</tspan><tspan x="669" dy="5">tracking customer demand</tspan><tspan x="669" dy="5">that they can't fill, not</tspan><tspan x="669" dy="5">informing future demand plans</tspan></text>
<text class="lb lo" x="633" y="905.5">Opportunities</text>
<rect class="bl" x="633" y="912" width="64" height="37"/>
<text class="lb lpe" x="633" y="962.5">People</text>
<rect class="pu" x="633" y="967" width="47" height="28"/>
<text class="xs" x="656.5" y="976.5"><tspan x="656.5">Finance team put pressure</tspan><tspan x="656.5" dy="3.6">on SC and IV team re cash</tspan><tspan x="656.5" dy="3.6">flow, turnover, avoiding</tspan><tspan x="656.5" dy="3.6">sitting on inventory</tspan></text>
<rect class="pu" x="686" y="967" width="50" height="28"/>
<text class="xs" x="711" y="976.5"><tspan x="711">Collaborating closely with</tspan><tspan x="711" dy="3.6">finance team to negotiate</tspan><tspan x="711" dy="3.6">the cash flow associated</tspan><tspan x="711" dy="3.6">with extra inventory</tspan></text>
<rect class="pu" x="633" y="1000" width="30" height="29"/>
<rect class="pu" x="668" y="1000" width="29" height="29"/>
<text class="ls" x="748" y="973">Systems</text>
<rect class="dg" x="749" y="983" width="46" height="28"/>
</g>

<!-- ===== Managing orders ===== -->
<g id="managing-orders">
<rect class="bar" x="927" y="731" width="425" height="23"/>
<text class="bt" x="1140" y="748.5">Managing orders (B2C / B2B)</text>
<text class="sub" x="940" y="777">Surface customers requests in UI,</text>
<text class="sub" x="940" y="800">reduce UI extensions</text>
<rect class="pk" x="939" y="811" width="48" height="28"/>
<rect class="dg" x="993" y="811" width="49" height="28"/>
<rect class="bl" x="939" y="845" width="48" height="28"/>
<rect class="bl" x="993" y="845" width="49" height="28"/>
<rect class="tl" x="939" y="878" width="48" height="28"/>
<rect class="tl" x="993" y="878" width="49" height="28"/>
<rect class="pk" x="1069" y="811" width="48" height="28"/>
<rect class="bl" x="1069" y="844" width="48" height="28"/>
<rect class="bl" x="1121" y="844" width="48" height="28"/>
<rect class="tl" x="1069" y="877" width="48" height="28"/>
<rect class="tl" x="1121" y="877" width="48" height="28"/>
<text class="md" x="1204" y="835">Summarise order</text>
<text class="md" x="1204" y="846">audits</text>
<rect class="or" x="1204" y="852" width="48" height="28"/>
<rect class="pk" x="1256" y="852" width="48" height="28"/>
<rect class="bl" x="1229" y="885" width="48" height="28"/>
<text class="md" x="948" y="937">Consolidate order alerts</text>
<rect class="bl" x="948" y="947" width="48" height="29"/>
<rect class="pk" x="1002" y="945" width="47" height="28"/>
<rect class="tl" x="948" y="982" width="48" height="29"/>
<rect class="tl" x="999" y="982" width="48" height="29"/>
<text class="md" x="1086" y="937">Automated &amp; bulk tasks</text>
<rect class="or" x="1083" y="947" width="48" height="29"/>
<rect class="bl" x="1136" y="947" width="47" height="29"/>
<text class="xs" x="1159.5" y="955.2"><tspan x="1159.5" font-weight="bold">Automated &amp; Bulk Tasks</tspan><tspan x="1159.5" dy="3.6">A.   Resolving a Hold for a</tspan><tspan x="1159.5" dy="3.6">particular Order</tspan><tspan x="1159.5" dy="3.6">B.   Reprocessing and Ignoring</tspan><tspan x="1159.5" dy="3.6">Bulk Exceptions</tspan></text>
<rect class="bl" x="1186" y="947" width="48" height="29"/>
<rect class="dg" x="1083" y="978" width="48" height="29"/>
<rect class="dg" x="1136" y="978" width="47" height="29"/>
<rect class="pk" x="1186" y="978" width="48" height="29"/>
</g>

<!-- ===== Managing complex contract orders ===== -->
<g id="complex-contract-orders">
<rect class="bar" x="1370" y="731" width="610" height="23"/>
<text class="bt" x="1675" y="748.5">Managing complex contract orders</text>
<text class="sub" x="1373" y="784">Entering orders into 'the system'</text>
<text class="sub" x="1766" y="777">Managing sales orders</text>
<text class="sub" x="1766" y="800">and making changes</text>
<text class="lb lp" x="1376" y="825.5">Pain points</text>
<rect class="pk" x="1376" y="837" width="41" height="24"/>
<text class="s3" x="1396.5" y="845.85"><tspan x="1396.5">Some orders aren't</tspan><tspan x="1396.5" dy="4.2">getting into the</tspan><tspan x="1396.5" dy="4.2">system</tspan></text>
<rect class="pk" x="1420" y="837" width="42" height="24"/>
<rect class="pk" x="1376" y="865" width="41" height="23"/>
<text class="s3" x="1396.5" y="875.45"><tspan x="1396.5">CS rep reviewing all</tspan><tspan x="1396.5" dy="4.2">orders 'high touch'</tspan></text>
<text class="lb ln" x="1376" y="910.5">Needs</text>
<rect class="cr" x="1376" y="919" width="35" height="21"/>
<rect class="cr" x="1376" y="943" width="35" height="20"/>
<text class="xs" x="1393.5" y="950.3"><tspan x="1393.5">Support entering</tspan><tspan x="1393.5" dy="3.6">large orders into</tspan><tspan x="1393.5" dy="3.6">the system</tspan></text>
<rect class="cr" x="1376" y="967" width="35" height="20"/>
<text class="xs" x="1393.5" y="974.3"><tspan x="1393.5">Multiple options for</tspan><tspan x="1393.5" dy="3.6">order capture: capture</tspan><tspan x="1393.5" dy="3.6">and order entry</tspan></text>
<rect class="cr" x="1376" y="990" width="35" height="20"/>
<rect class="or" x="1415" y="919" width="37" height="21"/>
<rect class="or" x="1454" y="919" width="35" height="21"/>
<text class="s3" x="1471.5" y="928.45"><tspan x="1471.5">Detect missing</tspan><tspan x="1471.5" dy="4.2">child orders</tspan></text>
<rect class="or" x="1415" y="943" width="37" height="22"/>
<text class="xs" x="1433.5" y="951.3"><tspan x="1433.5">CM validation of</tspan><tspan x="1433.5" dy="3.6">order quantities to</tspan><tspan x="1433.5" dy="3.6">match case pack size</tspan></text>
<rect class="or" x="1454" y="943" width="35" height="20"/>
<text class="xs" x="1471.5" y="950.3"><tspan x="1471.5">Identify problems</tspan><tspan x="1471.5" dy="3.6">with order data</tspan><tspan x="1471.5" dy="3.6">uploading</tspan></text>
<text class="lb li" x="1523" y="826.5">Impact</text>
<rect class="tl" x="1523" y="833" width="65" height="39"/>
<text style="font-size:4px;fill:#2a2a2a;text-anchor:middle" x="1555.5" y="844.9"><tspan x="1555.5">Lost orders that are</tspan><tspan x="1555.5" dy="6">only realised when a</tspan><tspan x="1555.5" dy="6">customer calls to</tspan><tspan x="1555.5" dy="6">complain</tspan></text>
<text class="lb lo" x="1523" y="907.5">Opportunities</text>
<rect class="bl" x="1523" y="915" width="65" height="38"/>
<text style="font-size:4.4px;fill:#2a2a2a;text-anchor:middle" x="1555.5" y="929.05"><tspan x="1555.5">What if analysis for</tspan><tspan x="1555.5" dy="6.5">planning / drafting</tspan><tspan x="1555.5" dy="6.5">contract orders</tspan></text>
<text class="lb lpe" x="1631" y="832.5">People</text>
<text class="ls" x="1629" y="906">Systems</text>
<rect class="dg" x="1628" y="915" width="36" height="22"/>
<text class="gt" x="1646" y="927.1">Phone</text>
<rect class="dg" x="1667" y="915" width="36" height="22"/>
<text class="gt" x="1685" y="927.1">Email</text>
<rect class="dg" x="1628" y="939" width="36" height="21"/>
<text class="gt" x="1646" y="948.6" style="font-size:2.6px"><tspan x="1646">self-service</tspan><tspan x="1646" dy="3.6">customer order tool</tspan></text>
<rect class="dg" x="1667" y="939" width="36" height="21"/>
<text class="gt" x="1685" y="950.6">ERP</text>
<text class="lb lp" x="1766" y="821.5">Pain points</text>
<rect class="pk" x="1766" y="828" width="41" height="24"/>
<rect class="pk" x="1812" y="828" width="41" height="24"/>
<text class="xs" x="1832.5" y="835.5"><tspan x="1832.5">Keeping track of</tspan><tspan x="1832.5" dy="3.6">releasing sales orders,</tspan><tspan x="1832.5" dy="3.6">especially for contracts</tspan><tspan x="1832.5" dy="3.6">with high no. order lines</tspan></text>
<text class="lb ln" x="1762" y="904.5">Needs</text>
<rect class="or" x="1763" y="912" width="35" height="21"/>
<text class="xs" x="1780.5" y="921.6"><tspan x="1780.5">Make quick order</tspan><tspan x="1780.5" dy="3.6">changes on the fly</tspan></text>
<rect class="or" x="1808" y="912" width="35" height="21"/>
<text class="xs" x="1825.5" y="919.8"><tspan x="1825.5">See the relationship</tspan><tspan x="1825.5" dy="3.6">between contract orders</tspan><tspan x="1825.5" dy="3.6">and release orders</tspan></text>
<rect class="or" x="1763" y="936" width="35" height="21"/>
<text class="xs" x="1780.5" y="943.8"><tspan x="1780.5">Understand exactly where</tspan><tspan x="1780.5" dy="3.6">and what changes need to</tspan><tspan x="1780.5" dy="3.6">be made to order lines</tspan></text>
<rect class="or" x="1808" y="937" width="35" height="21"/>
<rect class="or" x="1763" y="961" width="35" height="21"/>
</g>

<!-- ===== Visibility across B2B account hierarchy ===== -->
<g id="b2b-hierarchy">
<rect class="bar" x="2045" y="732" width="389" height="24"/>
<text class="bt" x="2240" y="750">Visibility across B2B account hierarchy</text>
<text class="sub" x="2048" y="791">Maintain inventory visibility across parent/child</text>
<text class="sub" x="2048" y="814">relationships on accounts and contract orders</text>
<text class="lb lp" x="2049" y="838.5">Pain points</text>
<rect class="pk" x="2048" y="842" width="34" height="20"/>
<text class="xs" x="2065" y="849.3"><tspan x="2065">EDC proliferation</tspan><tspan x="2065" dy="3.6">and account linking</tspan><tspan x="2065" dy="3.6">complexities</tspan></text>
<rect class="pk" x="2087" y="842" width="33" height="20"/>
<text class="xs" x="2103.5" y="849.3"><tspan x="2103.5">Segmentation only</tspan><tspan x="2103.5" dy="3.6">covers the parent</tspan><tspan x="2103.5" dy="3.6">account</tspan></text>
<rect class="pk" x="2048" y="866" width="34" height="19"/>
<rect class="pk" x="2087" y="866" width="33" height="19"/>
<text class="lb ln" x="2049" y="907.5">Needs</text>
<rect class="or" x="2045" y="913" width="35" height="21"/>
<text class="xs" x="2062.5" y="920.8"><tspan x="2062.5">'Segment' inventory</tspan><tspan x="2062.5" dy="3.6">via pre-order, buy n</tspan><tspan x="2062.5" dy="3.6">hold, and cataloguing</tspan></text>
<rect class="or" x="2085" y="913" width="35" height="21"/>
<text class="xs" x="2102.5" y="920.8"><tspan x="2102.5">More efficient way</tspan><tspan x="2102.5" dy="3.6">to manage and</tspan><tspan x="2102.5" dy="3.6">trace EDCs</tspan></text>
<rect class="or" x="2045" y="937" width="35" height="21"/>
<text class="xs" x="2062.5" y="944.8"><tspan x="2062.5">Temporarily reserve</tspan><tspan x="2062.5" dy="3.6">inventory for same</tspan><tspan x="2062.5" dy="3.6">day ship orders</tspan></text>
<rect class="or" x="2085" y="937" width="35" height="21"/>
<text class="lb lm" x="2045" y="975.5">Impact</text>
<rect class="mg" x="2045" y="979" width="65" height="39"/>
<text style="font-size:3.6px;fill:#2a2a2a;text-anchor:middle" x="2077.5" y="988.6"><tspan x="2077.5">Efficient segmentation and</tspan><tspan x="2077.5" dy="5.6">allocation operations are</tspan><tspan x="2077.5" dy="5.6">blocked due to manual</tspan><tspan x="2077.5" dy="5.6">tracking of continuously</tspan><tspan x="2077.5" dy="5.6">spawning EDCs</tspan></text>
<text class="lb lpe" x="2172" y="838.5">People</text>
<rect class="pu" x="2172" y="842" width="35" height="21"/>
<rect class="pu" x="2212" y="842" width="36" height="21"/>
<text class="xs" x="2230" y="849.8"><tspan x="2230">Web solution architect</tspan><tspan x="2230" dy="3.6">hit with web issues re</tspan><tspan x="2230" dy="3.6">parent EDC mismatch</tspan></text>
<rect class="pu" x="2172" y="869" width="35" height="21"/>
<text class="xs" x="2189.5" y="876.8"><tspan x="2189.5">DC team hit with</tspan><tspan x="2189.5" dy="3.6">more manual labor</tspan><tspan x="2189.5" dy="3.6">of EDC relabelling</tspan></text>
</g>

<!-- ===== Connectors ===== -->
<g id="connectors">
<path d="M1124,227.5 L1130.5,227.5" stroke="#111" stroke-width="1.2" fill="none" marker-start="url(#ah)" marker-end="url(#ah)"/>
</g>
</svg>
